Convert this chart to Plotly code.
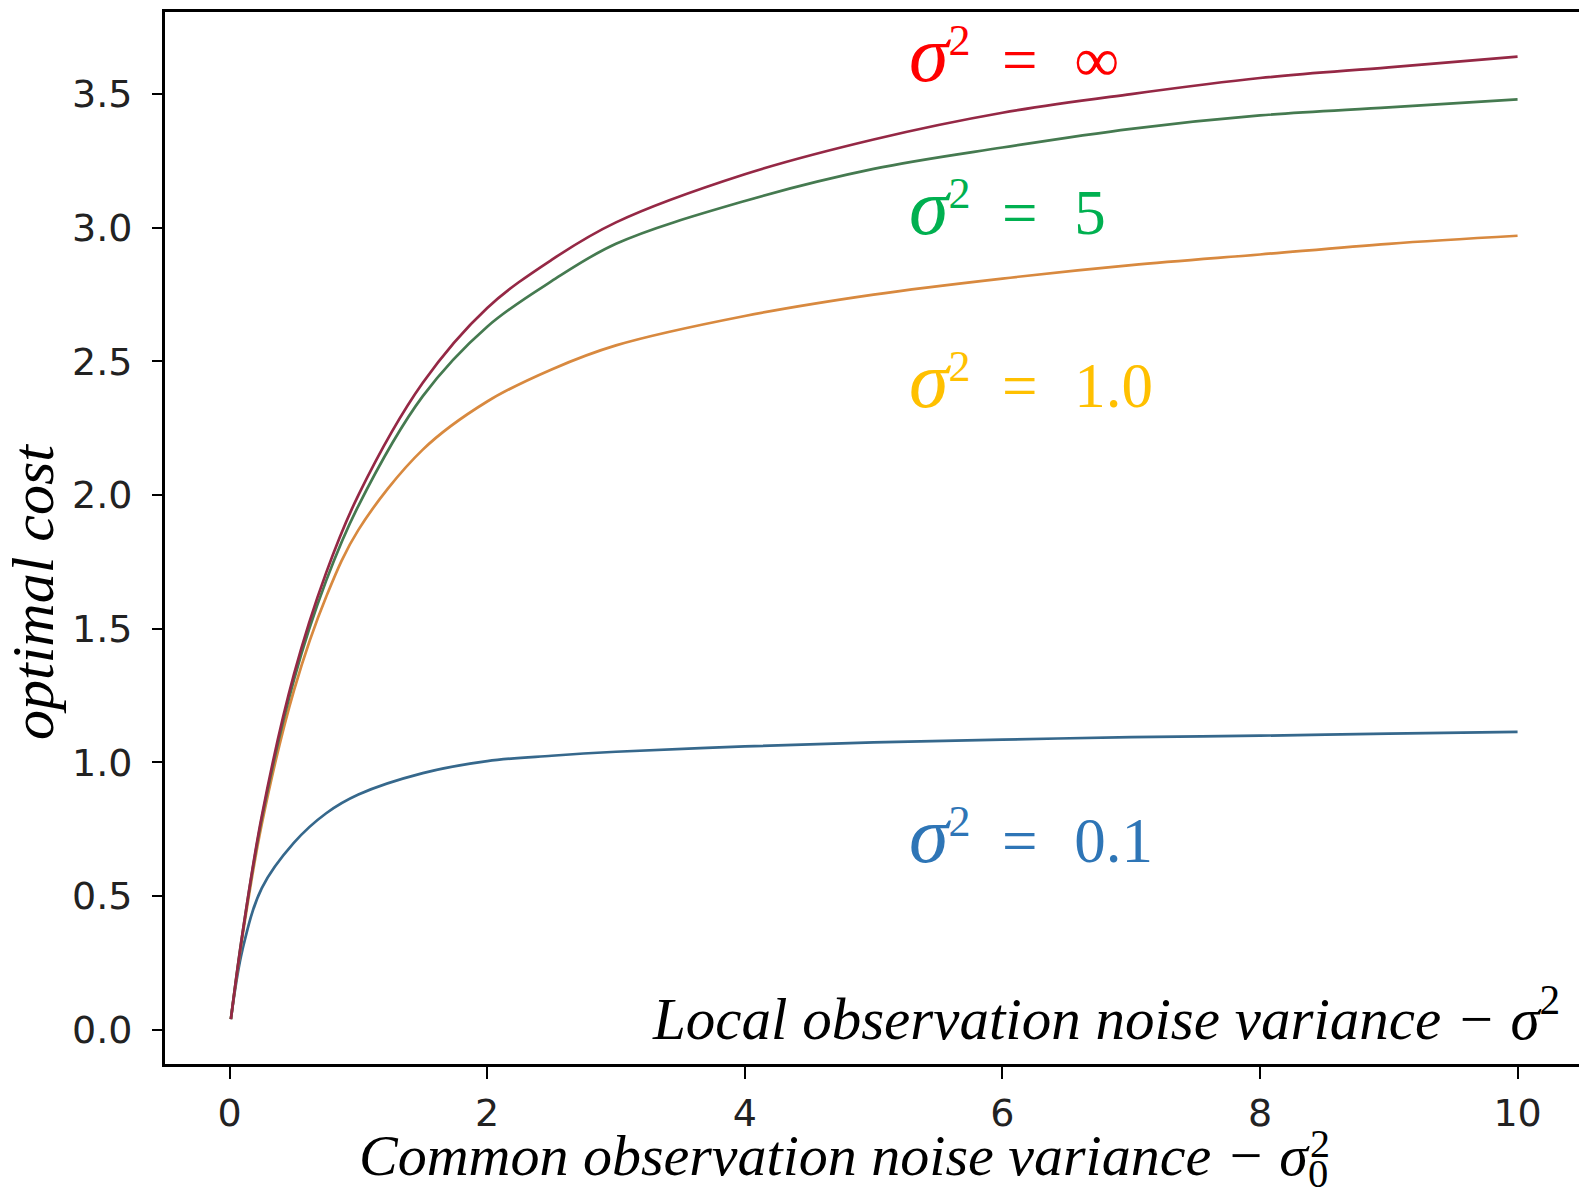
import plotly.graph_objects as go

# common observation noise variance (x)
x_vals = [0.01, 0.1, 0.25, 0.5, 0.75, 1, 1.5, 2, 2.5, 3, 4, 5, 6, 7, 8, 9, 10]
# optimal cost for each local noise variance
cost_inf = [0.04, 0.36, 0.80, 1.33, 1.71, 2.00, 2.42, 2.70, 2.88, 3.02, 3.20, 3.33, 3.43, 3.50, 3.56, 3.60, 3.64]
cost_5 = [0.04, 0.36, 0.79, 1.31, 1.68, 1.96, 2.37, 2.63, 2.80, 2.94, 3.10, 3.22, 3.30, 3.37, 3.42, 3.45, 3.48]
cost_1 = [0.04, 0.35, 0.77, 1.27, 1.62, 1.87, 2.17, 2.35, 2.47, 2.56, 2.67, 2.75, 2.81, 2.86, 2.90, 2.94, 2.97]
cost_01 = [0.04, 0.30, 0.53, 0.70, 0.81, 0.88, 0.96, 1.005, 1.025, 1.04, 1.06, 1.075, 1.085, 1.095, 1.10, 1.108, 1.114]

series_names = ["σ² = 0.1", "σ² = 1.0", "σ² = 5", "σ² = ∞"]
line_colors = ["#36688c", "#d8893f", "#457a50", "#952845"]
label_colors = ["#2E75B6", "#FFC000", "#00B050", "#FF0000"]
label_values = ["0.1", "1.0", "5", "∞"]
label_y = [0.727, 2.431, 3.076, 3.649]

x_ticks = [0, 2, 4, 6, 8, 10]
y_ticks = [0.0, 0.5, 1.0, 1.5, 2.0, 2.5, 3.0, 3.5]

fig = go.Figure()
for name, ys, col in zip(series_names, [cost_01, cost_1, cost_5, cost_inf], line_colors):
    fig.add_trace(go.Scatter(x=x_vals, y=ys, mode="lines", name=name,
                             line=dict(color=col, width=2.7, shape="spline", smoothing=1.0)))

serif = "Liberation Serif"
W, H = 1579, 1189
PW, PH, L, T = 1414, 1052, 165, 12


def px(xp):
    return (xp - L) / PW


def py(yp):
    return (T + PH - yp) / PH


for val, yv, col in zip(label_values, label_y, label_colors):
    fig.add_annotation(x=5.26, y=yv, xref="x", yref="y", xanchor="left", yanchor="middle",
                       text=f"<span style='font-size:80px'><i>σ</i></span><sup>2</sup>&nbsp;&nbsp;=&nbsp;&nbsp;\u200a{val}",
                       showarrow=False, font=dict(family=serif, size=63, color=col))

fig.add_annotation(x=px(1562), y=py(1014), xref="paper", yref="paper", xanchor="right", yanchor="middle",
                   text="<i>Local observation noise variance − σ</i><sup>2</sup>", showarrow=False,
                   font=dict(family=serif, size=59, color="black"))
fig.add_annotation(x=px(1330), y=py(1159), xref="paper", yref="paper",
                   xanchor="right", yanchor="middle",
                   text="<i>Common observation noise variance − σ</i><sub>0</sub>", showarrow=False,
                   font=dict(family=serif, size=58, color="black"))
fig.add_annotation(x=px(1332), y=py(1143), xref="paper", yref="paper",
                   xanchor="right", yanchor="middle",
                   text="2", showarrow=False,
                   font=dict(family=serif, size=40, color="black"))
fig.add_annotation(x=px(33), y=py(592), xref="paper", yref="paper",
                   xanchor="center", yanchor="middle", textangle=-90,
                   text="<i>optimal cost</i>", showarrow=False,
                   font=dict(family=serif, size=60, color="black"))

fig.update_layout(
    width=W, height=H,
    margin=dict(l=L, r=W - L - PW, t=T, b=H - T - PH, autoexpand=False),
    paper_bgcolor="white", plot_bgcolor="white",
    showlegend=False,
    xaxis=dict(range=[-0.5016, 10.477], tickvals=x_ticks, ticktext=[str(v) for v in x_ticks],
               showgrid=False, zeroline=False, showline=True, linecolor="black", linewidth=3,
               mirror=True, ticks="outside", ticklen=12, tickwidth=2, tickcolor="black",
               automargin=False, ticklabelstandoff=1,
               tickfont=dict(family="DejaVu Sans", size=38, color="#222")),
    yaxis=dict(range=[-0.128, 3.807], tickvals=y_ticks, ticktext=[f"{v:.1f}" for v in y_ticks],
               showgrid=False, zeroline=False, showline=True, linecolor="black", linewidth=3,
               ticks="outside", ticklen=10, tickwidth=2, tickcolor="black",
               automargin=False, ticklabelstandoff=12,
               tickfont=dict(family="DejaVu Sans", size=38, color="#222")),
)
fig.write_html("out.html", config={"displayModeBar": False},
               post_script="document.body.style.margin='0';document.body.style.overflow='hidden';")
